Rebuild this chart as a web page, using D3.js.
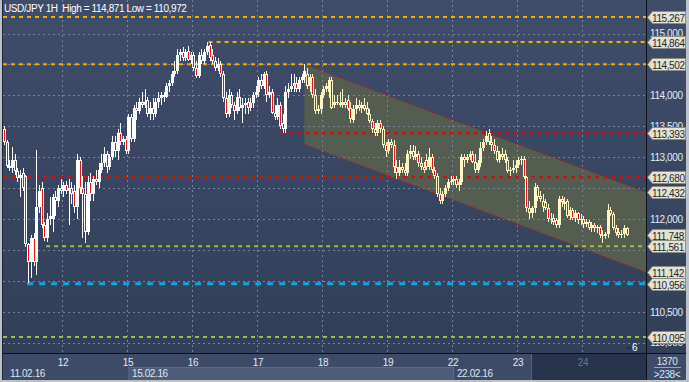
<!DOCTYPE html>
<html>
<head>
<meta charset="utf-8">
<script src="https://cdnjs.cloudflare.com/ajax/libs/d3/7.8.5/d3.min.js"></script>
<style>
  body { margin: 0; background: #b8bcc4; }
  svg { display: block; font-family: "Liberation Sans", Arial, sans-serif; }
</style>
</head>
<body>
<svg id="chart"></svg>
<script>
/* global d3 */

// hourly bars, [open, high, low, close], one array per trading day
var feb11 = [
  [113.45,113.50,113.20,113.25],[113.25,113.28,112.82,112.86],[112.86,112.95,112.78,112.82],
  [112.82,113.17,112.75,112.95],[112.95,113.05,112.72,112.78],[112.78,112.82,112.60,112.66],
  [112.66,112.80,112.35,112.72],[112.75,112.82,112.45,112.50],[112.70,112.72,111.55,111.60],
  [111.60,111.62,110.972,111.30],[111.30,111.75,111.05,111.70],[111.70,111.78,111.25,111.30],
  [111.30,113.12,111.10,112.20],[112.20,112.55,112.10,112.45],[112.50,112.60,111.85,111.90],
  [111.90,111.95,111.65,111.70],[111.70,112.10,111.63,112.00],[112.00,112.35,111.90,112.05],
  [112.00,112.40,111.80,112.35],[112.35,112.45,112.05,112.30],[112.30,112.55,112.20,112.50],
  [112.50,112.65,112.40,112.45]
];
var feb12 = [
  [112.45,112.60,112.35,112.55],[112.55,112.62,112.40,112.45],[112.45,112.65,111.90,112.50],
  [112.50,112.60,112.25,112.40],[112.45,112.55,112.10,112.20],[112.20,113.05,112.00,112.95],
  [112.95,113.00,112.40,112.50],[112.50,112.70,111.70,112.40],[112.40,112.60,111.62,111.80],
  [111.80,112.70,111.75,112.60],[112.60,112.75,112.30,112.40],[112.40,112.70,112.30,112.65],
  [112.65,112.80,112.55,112.60],[112.60,112.90,112.50,112.80],[112.80,113.05,112.75,112.90],
  [112.90,113.17,112.85,113.05],[113.05,113.10,112.75,112.85],[112.85,113.05,112.80,113.00],
  [113.00,113.35,112.95,113.25],[113.25,113.35,113.00,113.10],[113.10,113.45,112.95,113.40],
  [113.40,113.55,113.20,113.25],[113.25,113.35,113.20,113.30],[113.30,113.35,113.05,113.10]
];
var feb15 = [
  [113.10,113.70,113.05,113.65],[113.65,113.70,113.25,113.30],[113.30,113.85,113.25,113.80],
  [113.80,113.90,113.60,113.75],[113.75,113.95,113.70,113.90],[113.90,114.05,113.80,113.85],
  [113.85,114.10,113.80,113.90],[113.92,113.98,113.65,113.70],[113.70,113.90,113.60,113.80],
  [113.80,113.95,113.60,113.70],[113.70,113.95,113.65,113.90],[113.90,114.05,113.80,113.95],
  [113.95,114.05,113.85,114.00],[114.00,114.05,113.90,113.98],[113.98,114.20,113.95,114.15],
  [114.15,114.25,114.05,114.20],[114.20,114.40,114.15,114.35],[114.35,114.55,114.30,114.40],
  [114.40,114.75,114.35,114.65],[114.65,114.75,114.55,114.70],[114.70,114.78,114.55,114.60],
  [114.60,114.75,114.55,114.70],[114.72,114.80,114.55,114.58],[114.58,114.70,114.50,114.65]
];
var feb16 = [
  [114.65,114.70,114.40,114.45],[114.45,114.55,114.28,114.32],[114.32,114.70,114.28,114.65],
  [114.65,114.75,114.50,114.55],[114.55,114.75,114.50,114.70],[114.70,114.871,114.65,114.80],
  [114.82,114.86,114.55,114.60],[114.65,114.75,114.50,114.55],[114.55,114.62,114.40,114.45],
  [114.45,114.60,114.40,114.50],[114.50,114.55,114.30,114.35],[114.35,114.40,113.90,113.95],
  [113.95,114.05,113.64,113.70],[113.70,114.10,113.65,114.00],[114.00,114.05,113.80,113.85],
  [113.85,113.90,113.60,113.75],[113.75,114.05,113.70,113.98],[113.98,114.10,113.75,113.80],
  [113.80,113.95,113.55,113.85],[113.85,113.95,113.70,113.88],[113.90,113.95,113.70,113.80],
  [113.80,113.95,113.75,113.88],[113.88,114.05,113.80,114.00],[114.00,114.15,113.95,114.05]
];
var feb17 = [
  [114.05,114.30,113.98,114.25],[114.25,114.35,114.10,114.15],[114.15,114.38,114.10,114.35],
  [114.35,114.40,113.90,114.00],[114.00,114.15,113.95,114.05],[114.05,114.10,113.70,113.72],
  [113.72,113.85,113.60,113.65],[113.65,113.95,113.60,113.85],[113.85,113.90,113.45,113.50],
  [113.55,113.70,113.393,113.45],[113.45,114.15,113.40,114.05],[114.05,114.20,113.95,114.10],
  [114.10,114.35,114.05,114.15],[114.15,114.35,114.05,114.20],[114.20,114.30,114.05,114.10],
  [114.10,114.30,114.05,114.25],[114.25,114.35,114.20,114.30],[114.30,114.502,114.20,114.40],
  [114.35,114.45,114.10,114.15],[114.15,114.35,114.05,114.30],[114.30,114.35,113.95,114.00],
  [114.00,114.10,113.70,113.75],[113.75,113.85,113.70,113.78],[113.78,114.05,113.70,114.00]
];
var feb18 = [
  [114.00,114.15,113.95,114.10],[114.10,114.20,114.05,114.15],[114.05,114.30,113.95,114.25],
  [114.25,114.30,113.78,113.80],[113.85,114.00,113.80,113.90],[113.90,114.00,113.85,113.88],
  [113.88,114.05,113.82,113.85],[113.85,114.10,113.80,113.90],[113.90,113.95,113.80,113.85],
  [113.92,114.00,113.75,113.78],[113.80,113.90,113.55,113.62],[113.60,113.85,113.55,113.78],
  [113.78,113.95,113.70,113.85],[113.85,113.92,113.75,113.80],[113.80,113.90,113.72,113.85],
  [113.85,113.95,113.75,113.78],[113.80,113.90,113.68,113.70],[113.70,113.78,113.55,113.58],
  [113.58,113.62,113.40,113.45],[113.45,113.55,113.35,113.40],[113.40,113.60,113.35,113.55],
  [113.55,113.60,113.40,113.45],[113.45,113.50,113.15,113.20],[113.20,113.25,113.00,113.10]
];
var feb19 = [
  [113.10,113.30,113.05,113.25],[113.25,113.30,113.15,113.20],[113.20,113.28,112.75,112.85],
  [112.85,112.95,112.65,112.75],[112.75,112.95,112.70,112.85],[112.85,112.90,112.75,112.80],
  [112.80,112.90,112.70,112.75],[112.75,113.12,112.70,113.05],[113.05,113.20,112.98,113.10],
  [113.10,113.20,112.95,113.00],[113.00,113.18,112.95,113.05],[113.05,113.10,112.85,112.90],
  [112.90,113.00,112.80,112.85],[112.85,112.92,112.75,112.80],[112.95,113.05,112.80,112.85],
  [112.85,113.15,112.80,113.00],[113.00,113.05,112.75,112.80],[112.80,112.85,112.65,112.70],
  [112.70,112.75,112.35,112.40],[112.40,112.50,112.25,112.30],[112.30,112.45,112.25,112.40],
  [112.40,112.55,112.35,112.50],[112.50,112.65,112.45,112.60],[112.60,112.70,112.55,112.62]
];
var feb22 = [
  [112.62,112.70,112.55,112.65],[112.65,112.70,112.50,112.55],[112.55,112.65,112.45,112.60],
  [112.60,113.05,112.55,113.00],[113.00,113.05,112.85,112.95],[112.95,113.05,112.90,113.00],
  [113.00,113.10,112.95,113.05],[113.05,113.10,112.90,112.92],[112.92,113.05,112.75,112.80],
  [112.80,112.95,112.75,112.90],[112.90,113.25,112.85,113.15],[113.15,113.30,113.10,113.25],
  [113.25,113.42,113.20,113.35],[113.40,113.45,113.20,113.25],[113.25,113.35,113.10,113.20],
  [113.20,113.30,113.05,113.10],[113.10,113.18,112.92,112.95],[112.95,113.10,112.90,113.05],
  [113.05,113.15,112.95,113.00],[113.05,113.12,112.90,112.95],[112.95,113.00,112.75,112.78],
  [112.78,112.85,112.70,112.80],[112.80,112.95,112.75,112.82],[112.82,112.95,112.75,112.88]
];
var feb23 = [
  [112.88,113.00,112.82,112.95],[112.95,113.02,112.88,112.98],[112.98,113.02,112.65,112.68],
  [112.68,112.70,112.12,112.18],[112.18,112.30,112.00,112.10],[112.10,112.22,112.02,112.18],
  [112.18,112.58,112.10,112.52],[112.52,112.55,112.30,112.35],[112.38,112.45,112.28,112.32],
  [112.30,112.40,112.12,112.20],[112.28,112.32,112.15,112.18],[112.18,112.25,111.95,112.00],
  [112.00,112.10,111.92,111.98],[112.02,112.08,111.90,111.95],[111.98,112.02,111.85,111.90],
  [111.90,112.38,111.85,112.32],[112.32,112.38,112.20,112.28],[112.28,112.35,112.15,112.25],
  [112.30,112.32,112.02,112.05],[112.05,112.20,111.98,112.15],[112.15,112.18,111.98,112.02],
  [112.02,112.15,111.95,112.10],[112.10,112.12,111.92,111.98],[111.98,112.08,111.90,112.00]
];
var feb24 = [
  [112.00,112.05,111.85,111.92],[111.92,112.00,111.88,111.95],[111.95,111.98,111.82,111.85],
  [111.85,111.95,111.80,111.90],[111.90,111.93,111.80,111.85],[111.85,111.90,111.78,111.88],
  [111.88,111.90,111.70,111.75],[111.75,111.82,111.62,111.72],[111.72,111.80,111.68,111.76],
  [111.76,112.25,111.70,112.15],[112.15,112.20,112.05,112.08],[112.08,112.12,111.82,111.86],
  [111.86,111.90,111.72,111.78],[111.80,111.85,111.70,111.74],[111.74,111.82,111.70,111.76],
  [111.76,111.90,111.70,111.85],[111.85,111.88,111.72,111.748]
];

var days = [feb11, feb12, feb15, feb16, feb17, feb18, feb19, feb22, feb23, feb24];
var dayLabels = ["", "12", "15", "16", "17", "18", "19", "22", "23", "24"];
var weekLabels = ["11.02.16", "15.02.16", "22.02.16"];
var weekStartDay = [0, 2, 7];

// horizontal levels: value, colour key, first bar
var levelValues = [115.267, 114.864, 114.502, 113.393, 112.680, 111.561, 110.956, 110.095];
var levelKinds  = ["orange", "orange", "orange", "red", "red", "green", "blue", "green"];
var levelFrom   = [0, 76, 0, 103, 0, 16, 9, 0];

// channel: bar index, upper price, lower price at both ends
var channelBars  = [111, 237.2];
var channelUpper = [114.502, 112.432];
var channelLower = [113.21, 111.142];

var tagValues = [115.267, 114.864, 114.502, 113.393, 112.680, 112.432, 111.748, 111.561, 111.142, 110.956, 110.095];

var width = 689, height = 382,
  plot = {left: 3, right: 646, top: 0, bottom: 353},
  axisRight = 686, axisBottom = 380;

var styles = {
  orange: {color: "#f2b005", width: 2, dash: "4,4"},
  red:    {color: "#cc1212", width: 2.5, dash: "4,4"},
  green:  {color: "#93c43e", width: 2, dash: "4,4"},
  blue:   {color: "#0ea6e6", width: 3, dash: "6,6"}
};

// flatten days into bars
var bars = [], dayStart = [];
days.forEach(function (d) {
  dayStart.push(bars.length);
  d.forEach(function (b) {
    bars.push({i: bars.length, o: b[0], h: b[1], l: b[2], c: b[3]});
  });
});

var x = d3.scaleLinear().domain([0, 230]).range([3.8, 626.6]);
var y = d3.scaleLinear().domain([110.095, 115.267]).range([337, 17]);
var fmt = function (v) { return d3.format(".3f")(v).replace(".", ","); };

var svg = d3.select("#chart")
  .attr("width", width)
  .attr("height", height);

var defs = svg.append("defs");
var grad = defs.append("linearGradient").attr("id", "bg")
  .attr("x1", 0).attr("y1", 0).attr("x2", 0).attr("y2", 1);
grad.append("stop").attr("offset", "0%").attr("stop-color", "#3f4d6b");
grad.append("stop").attr("offset", "100%").attr("stop-color", "#323f59");

defs.append("clipPath").attr("id", "plotClip")
  .append("rect")
  .attr("x", plot.left).attr("y", plot.top)
  .attr("width", plot.right - plot.left).attr("height", plot.bottom - plot.top);

// frame
svg.append("rect").attr("width", width).attr("height", height).attr("fill", "#bcc0c8");
svg.append("rect")
  .attr("x", plot.left).attr("y", 0)
  .attr("width", axisRight - plot.left).attr("height", plot.bottom)
  .attr("fill", "url(#bg)");
svg.append("line")
  .attr("x1", plot.left - 0.5).attr("x2", plot.left - 0.5)
  .attr("y1", 0).attr("y2", axisBottom)
  .attr("stroke", "#202838");

var g = svg.append("g").attr("clip-path", "url(#plotClip)");

// channel
var ch = [
  [x(channelBars[0]), y(channelUpper[0])],
  [x(channelBars[1]), y(channelUpper[1])],
  [x(channelBars[1]), y(channelLower[1])],
  [x(channelBars[0]), y(channelLower[0])]
];
g.append("path")
  .attr("d", d3.line()(ch) + "Z")
  .attr("fill", "#545d4f");

// grid
g.selectAll(".hgrid")
  .data(d3.range(110, 115.01, 0.5))
  .enter().append("line")
  .attr("x1", plot.left).attr("x2", plot.right)
  .attr("y1", function (d) { return Math.round(y(d)) + 0.5; })
  .attr("y2", function (d) { return Math.round(y(d)) + 0.5; })
  .attr("stroke", "#72829f")
  .attr("stroke-dasharray", "2,3");

g.selectAll(".vgrid")
  .data(dayStart.slice(1))
  .enter().append("line")
  .attr("x1", function (d) { return Math.round(x(d - 0.5)) + 0.5; })
  .attr("x2", function (d) { return Math.round(x(d - 0.5)) + 0.5; })
  .attr("y1", plot.top).attr("y2", plot.bottom)
  .attr("stroke", "#72829f")
  .attr("stroke-dasharray", "2,3");

// channel borders
[[ch[0], ch[1]], [ch[3], ch[2]]].forEach(function (s) {
  g.append("line")
    .attr("x1", s[0][0]).attr("y1", s[0][1])
    .attr("x2", s[1][0]).attr("y2", s[1][1])
    .attr("stroke", "#b81a1a")
    .attr("stroke-width", 1)
    .attr("stroke-dasharray", "2,2");
});

// levels
g.selectAll(".level")
  .data(levelValues)
  .enter().append("line")
  .attr("class", "level")
  .attr("x1", function (d, i) { return levelFrom[i] === 0 ? plot.left : x(levelFrom[i]) - 1; })
  .attr("x2", plot.right)
  .attr("y1", function (d) { return y(d); })
  .attr("y2", function (d) { return y(d); })
  .attr("stroke", function (d, i) { return styles[levelKinds[i]].color; })
  .attr("stroke-width", function (d, i) { return styles[levelKinds[i]].width; })
  .attr("stroke-dasharray", function (d, i) { return styles[levelKinds[i]].dash; });

// candles
var candle = g.selectAll(".candle")
  .data(bars)
  .enter().append("g")
  .attr("class", "candle")
  .attr("shape-rendering", "crispEdges");

function light(d) { return d.i > channelBars[0] ? "#fdf7c6" : "#ffffff"; }

candle.append("rect")
  .attr("x", function (d) { return Math.round(x(d.i)); })
  .attr("width", 1)
  .attr("y", function (d) { return Math.round(y(d.h)); })
  .attr("height", function (d) { return Math.max(1, Math.round(y(d.l)) - Math.round(y(d.h))); })
  .attr("fill", light);

candle.append("rect")
  .attr("x", function (d) { return Math.round(x(d.i)) - 1; })
  .attr("width", 3)
  .attr("y", function (d) { return Math.round(y(Math.max(d.o, d.c))); })
  .attr("height", function (d) { return Math.max(1, Math.round(y(Math.min(d.o, d.c))) - Math.round(y(Math.max(d.o, d.c)))); })
  .attr("fill", light);

candle.filter(function (d) { return d.c < d.o; })
  .append("rect")
  .attr("x", function (d) { return Math.round(x(d.i)); })
  .attr("width", 1)
  .attr("y", function (d) { return Math.round(y(d.o)) + 1; })
  .attr("height", function (d) { return Math.max(0, Math.round(y(d.c)) - Math.round(y(d.o)) - 2); })
  .attr("fill", "#ee1111");

// title
svg.append("text")
  .attr("x", 4).attr("y", 11.5)
  .attr("fill", "#ffffff")
  .style("font-size", "10px")
  .style("letter-spacing", "-0.4px")
  .attr("xml:space", "preserve")
  .text("USD/JPY 1H  High = 114,871 Low = 110,972");

// small counter near bottom right
svg.append("path")
  .attr("d", "M625,349 L629,345 L633,349 Z")
  .attr("fill", "#2a3246");
svg.append("text")
  .attr("x", 632).attr("y", 351)
  .attr("fill", "#ffffff")
  .style("font-size", "10px")
  .text("6");

// bottom axis
var xAxisG = svg.append("g");
xAxisG.append("rect")
  .attr("x", plot.left).attr("y", plot.bottom)
  .attr("width", axisRight - plot.left).attr("height", axisBottom - plot.bottom)
  .attr("fill", "#3e4b68");
xAxisG.append("rect")
  .attr("x", Math.round(x(dayStart[weekStartDay[1]] - 0.5)) + 1).attr("y", 367)
  .attr("width", Math.round(x(dayStart[weekStartDay[2]] - 0.5)) - Math.round(x(dayStart[weekStartDay[1]] - 0.5)))
  .attr("height", axisBottom - 367)
  .attr("fill", "#4f5c79");
xAxisG.append("line")
  .attr("x1", Math.round(x(dayStart[weekStartDay[1]] - 0.5)) + 1)
  .attr("x2", Math.round(x(dayStart[weekStartDay[2]] - 0.5)) + 1)
  .attr("y1", 367.5).attr("y2", 367.5)
  .attr("stroke", "#5e6b88");
xAxisG.append("line")
  .attr("x1", Math.round(x(dayStart[weekStartDay[2]] - 0.5)) + 1.5)
  .attr("x2", Math.round(x(dayStart[weekStartDay[2]] - 0.5)) + 1.5)
  .attr("y1", 367).attr("y2", axisBottom)
  .attr("stroke", "#5e6b88");
// not yet traded zone
xAxisG.append("rect")
  .attr("x", 532).attr("y", plot.bottom + 1)
  .attr("width", plot.right - 532).attr("height", axisBottom - plot.bottom - 1)
  .attr("fill", "#28334c");
xAxisG.append("line")
  .attr("x1", 531.5).attr("x2", 531.5)
  .attr("y1", plot.bottom).attr("y2", axisBottom)
  .attr("stroke", "#56627e");

xAxisG.selectAll(".day")
  .data(dayStart.slice(1))
  .enter().append("text")
  .attr("x", function (d) { return x(d - 0.5) + 1; })
  .attr("y", 365.5)
  .attr("text-anchor", "middle")
  .attr("fill", function (d, i) { return dayLabels[i + 1] === "24" ? "#6b7791" : "#e2e8f2"; })
  .style("font-size", "10px")
  .style("letter-spacing", "-0.3px")
  .text(function (d, i) { return dayLabels[i + 1]; });

xAxisG.selectAll(".week")
  .data(weekLabels)
  .enter().append("text")
  .attr("x", function (d, i) { return i === 0 ? 10 : x(dayStart[weekStartDay[i]] - 0.5) + 5; })
  .attr("y", 377)
  .attr("fill", "#dfe5ef")
  .style("font-size", "10px")
  .style("letter-spacing", "-0.4px")
  .text(function (d) { return d; });

// separators
svg.append("line")
  .attr("x1", plot.left).attr("x2", axisRight)
  .attr("y1", plot.bottom + 0.5).attr("y2", plot.bottom + 0.5)
  .attr("stroke", "#0e1118");
svg.append("line")
  .attr("x1", plot.right + 0.5).attr("x2", plot.right + 0.5)
  .attr("y1", 0).attr("y2", axisBottom)
  .attr("stroke", "#0e1118");

// right axis labels (those fully under a price tag are not drawn)
var yAxisG = svg.append("g");
var yTicks = d3.range(110, 115.01, 0.5).filter(function (v) {
  return !tagValues.some(function (t) { return Math.abs(y(t) - y(v)) < 5; });
});
yAxisG.selectAll(".ylab")
  .data(yTicks)
  .enter().append("text")
  .attr("x", 650)
  .attr("y", function (d) { return y(d) + 3.6; })
  .attr("fill", "#e6ecf6")
  .style("font-size", "10px")
  .style("letter-spacing", "-0.4px")
  .text(fmt);

var tag = yAxisG.selectAll(".tag")
  .data(tagValues)
  .enter().append("g")
  .attr("transform", function (d) { return "translate(0," + Math.round(y(d)) + ")"; });
tag.append("path")
  .attr("d", "M647.5,0.5 L652.5,-5.5 L685.5,-5.5 L685.5,6.5 L652.5,6.5 Z")
  .attr("fill", "#e4e3cf")
  .attr("stroke", "#8a8c80");
tag.append("text")
  .attr("x", 652).attr("y", 4.6)
  .attr("fill", "#1c2436")
  .style("font-size", "10px")
  .style("letter-spacing", "-0.4px")
  .text(fmt);

// bars counter panel
svg.append("text")
  .attr("x", 667).attr("y", 364.5)
  .attr("text-anchor", "middle")
  .attr("fill", "#dfe5ef")
  .style("font-size", "10px")
  .style("letter-spacing", "-0.4px")
  .text("1370");
svg.append("line")
  .attr("x1", 654).attr("x2", 681)
  .attr("y1", 367.5).attr("y2", 367.5)
  .attr("stroke", "#9aa3b6");
svg.append("text")
  .attr("x", 667).attr("y", 377.5)
  .attr("text-anchor", "middle")
  .attr("fill", "#dfe5ef")
  .style("font-size", "10px")
  .style("letter-spacing", "-0.4px")
  .text(">238<");
</script>
</body>
</html>
